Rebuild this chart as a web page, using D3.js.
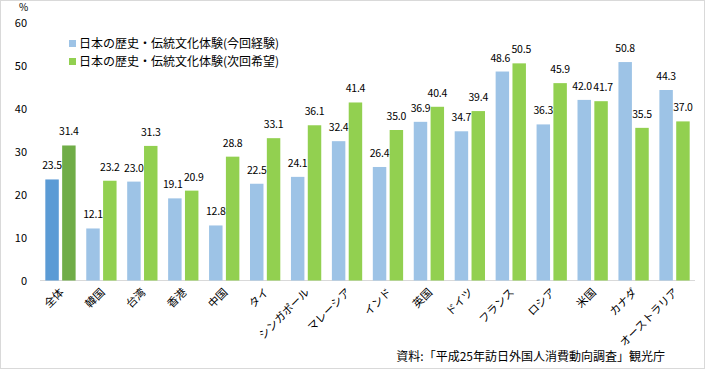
<!DOCTYPE html>
<html><head><meta charset="utf-8">
<script src="https://cdn.jsdelivr.net/npm/d3@7"></script>
<style>body{margin:0;background:#fff;}svg{display:block;font-family:"Noto Sans CJK JP","Noto Sans",sans-serif;}</style>
</head><body><svg id="c" width="705" height="369"></svg>
<script>
const categories=["全体","韓国","台湾","香港","中国","タイ","シンガポール","マレーシア","インド","英国","ドイツ","フランス","ロシア","米国","カナダ","オーストラリア"];
const current=[23.5,12.1,23.0,19.1,12.8,22.5,24.1,32.4,26.4,36.9,34.7,48.6,36.3,42.0,50.8,44.3];
const next=[31.4,23.2,31.3,20.9,28.8,33.1,36.1,41.4,35.0,40.4,39.4,50.5,45.9,41.7,35.5,37.0];
const seriesNames=["日本の歴史・伝統文化体験(今回経験)","日本の歴史・伝統文化体験(次回希望)"];
const yTicks=[0,10,20,30,40,50,60];

const svg=d3.select("#c");
svg.append("rect").attr("x",0.5).attr("y",0.5).attr("width",704).attr("height",368).attr("fill","#fff").attr("stroke","#d9d9d9");
const x=d3.scaleBand().domain(categories).range([40,695]).paddingInner(0.26).paddingOuter(0.13);
const x1=d3.scaleBand().domain([0,1]).range([0,x.bandwidth()]).paddingInner(0.2);
const y=d3.scaleLinear().domain([0,60]).range([280.5,22.5]);

svg.append("g").selectAll("text").data(yTicks).join("text")
 .attr("x",27).attr("y",d=>y(d)+4).attr("text-anchor","end").attr("font-size",11).attr("fill","#000").text(d=>d);
svg.append("text").attr("x",19).attr("y",11).attr("font-size",10).text("%");
svg.append("line").attr("x1",40).attr("x2",695).attr("y1",280.5).attr("y2",280.5).attr("stroke","#d9d9d9");

const fills=[["#5b9bd5","#9dc3e6"],["#70ad47","#92d050"]];
const labelSel=[];
[current,next].forEach((vals,s)=>{
  const g=svg.append("g");
  g.selectAll("rect").data(vals).join("rect")
   .attr("x",(d,i)=>x(categories[i])+x1(s)).attr("width",x1.bandwidth())
   .attr("y",d=>y(d)).attr("height",d=>y(0)-y(d))
   .attr("fill",(d,i)=>i===0?fills[s][0]:fills[s][1]);
  labelSel.push(g.selectAll("text").data(vals).join("text")
   .attr("x",(d,i)=>x(categories[i])+x1(s)+x1.bandwidth()/2).attr("y",d=>y(d)-10)
   .attr("text-anchor","middle").attr("font-size",10.5).attr("letter-spacing",-0.2).attr("fill","#000").text(d=>d.toFixed(1)));
});
// nudge overlapping label pairs apart
const A=labelSel[0].nodes(), B=labelSel[1].nodes();
A.forEach((a,i)=>{
  const b=B[i], ba=a.getBBox(), bb=b.getBBox();
  const vOver=ba.y<bb.y+bb.height && bb.y<ba.y+ba.height;
  const over=ba.x+ba.width-bb.x+1;
  if(vOver && over>0){
    d3.select(a).attr("x",+a.getAttribute("x")-over/2);
    d3.select(b).attr("x",+b.getAttribute("x")+over/2);
  }
});

svg.append("g").selectAll("text").data(categories).join("text")
 .attr("transform",d=>`translate(${x(d)+x.bandwidth()/2+4},${293}) rotate(-45)`)
 .attr("text-anchor","end").attr("font-size",11).attr("fill","#000").text(d=>d);

seriesNames.forEach((n,i)=>{
  svg.append("rect").attr("x",69).attr("y",40+i*18).attr("width",7).attr("height",7).attr("fill",fills[i][1]);
  svg.append("text").attr("x",79).attr("y",48+i*18).attr("font-size",12).text(n);
});
svg.append("text").attr("x",665).attr("y",361).attr("text-anchor","end").attr("font-size",12).text("資料:「平成25年訪日外国人消費動向調査」観光庁");
</script></body></html>
